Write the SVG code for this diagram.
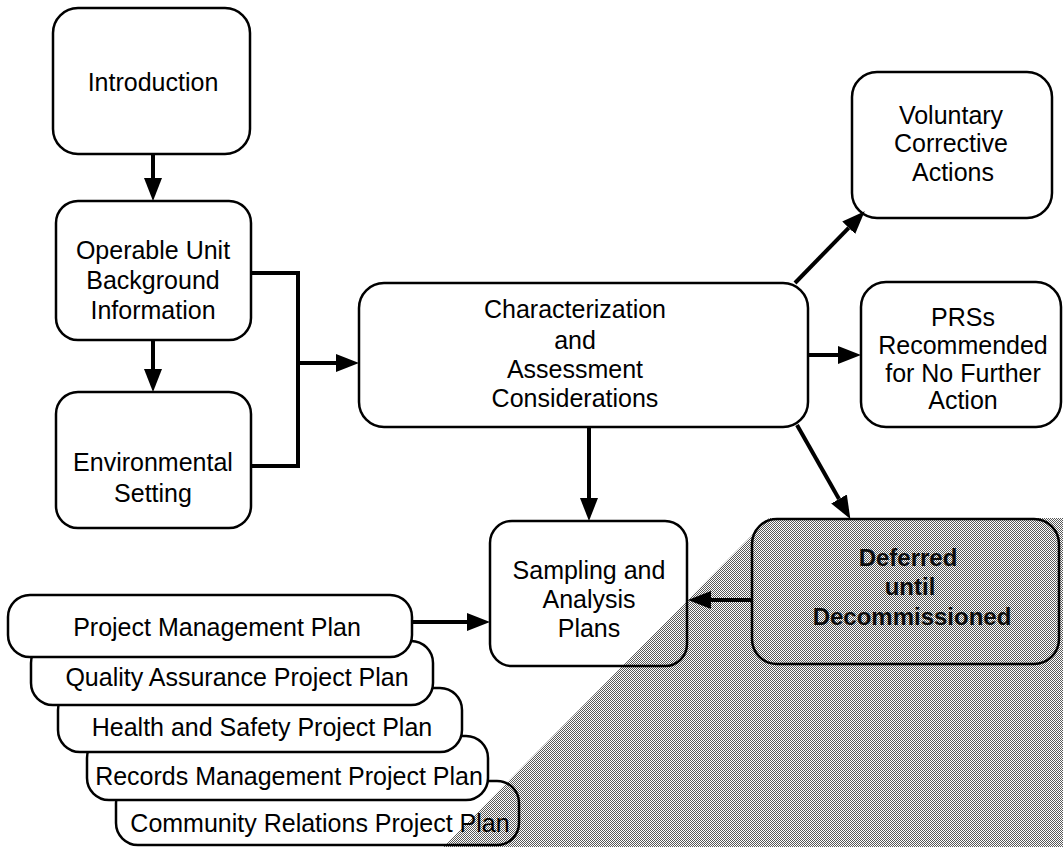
<svg xmlns="http://www.w3.org/2000/svg" width="1063" height="847" viewBox="0 0 1063 847">
<defs>
<style>
.box{fill:#fff;stroke:#000;stroke-width:2.5}
.open{fill:none;stroke:#000;stroke-width:2.5}
.t{font-family:"Liberation Sans",Arial,sans-serif;font-size:25px;fill:#000;text-anchor:middle}
.tb{font-family:"Liberation Sans",Arial,sans-serif;font-size:24px;font-weight:bold;fill:#111;text-anchor:middle}
.c{fill:none;stroke:#000;stroke-width:4}
.a{stroke:#000;stroke-width:4;fill:none;marker-end:url(#ah)}
</style>
<marker id="ah" markerUnits="userSpaceOnUse" markerWidth="24" markerHeight="20" refX="0" refY="10" orient="auto">
<path d="M0,1 L23,10 L0,19 Z" fill="#000"/>
</marker>
<pattern id="dots" width="2" height="2" patternUnits="userSpaceOnUse">
<rect x="0" y="0" width="1" height="1" fill="#000" shape-rendering="crispEdges"/>
<rect x="1" y="1" width="1" height="1" fill="#000" shape-rendering="crispEdges"/>
</pattern>
</defs>
<rect width="1063" height="847" fill="#fff"/>

<g id="stack">
<g id="crpp"><rect class="box" x="116" y="781" width="403" height="64" rx="22"/><text class="t" x="320" y="832">Community Relations Project Plan</text></g>
<g id="rmpp"><rect class="box" x="87" y="736" width="401" height="64" rx="22"/><text class="t" x="289" y="785">Records Management Project Plan</text></g>
<g id="hspp"><rect class="box" x="58" y="688" width="404" height="64" rx="22"/><text class="t" x="262" y="736">Health and Safety Project Plan</text></g>
<g id="qapp"><rect class="box" x="31" y="641" width="402" height="64" rx="22"/><text class="t" x="237" y="686">Quality Assurance Project Plan</text></g>
<g id="pmp"><rect class="box" x="8" y="595" width="404" height="62" rx="22"/><text class="t" x="217" y="636">Project Management Plan</text></g>
</g>

<g id="intro"><rect class="box" x="53" y="8" width="197" height="146" rx="25"/><text class="t" x="153" y="91">Introduction</text></g>
<g id="operable"><rect class="box" x="56" y="201" width="195" height="139" rx="22"/>
<text class="t" x="153" y="259">Operable Unit</text><text class="t" x="153" y="289">Background</text><text class="t" x="153" y="319">Information</text></g>
<g id="environmental"><rect class="box" x="56" y="392" width="195" height="136" rx="22"/>
<text class="t" x="153" y="471">Environmental</text><text class="t" x="153" y="502">Setting</text></g>
<g id="characterization"><rect class="box" x="359" y="283" width="449" height="144" rx="25"/>
<text class="t" x="575" y="318">Characterization</text><text class="t" x="575" y="349">and</text><text class="t" x="575" y="378">Assessment</text><text class="t" x="575" y="407">Considerations</text></g>
<g id="voluntary"><rect class="box" x="852" y="72" width="200" height="146" rx="25"/>
<text class="t" x="951" y="124">Voluntary</text><text class="t" x="951" y="152">Corrective</text><text class="t" x="953" y="181">Actions</text></g>
<g id="prss"><rect class="box" x="861" y="282" width="200" height="145" rx="25"/>
<text class="t" x="963" y="326">PRSs</text><text class="t" x="963" y="354">Recommended</text><text class="t" x="963" y="382">for No Further</text><text class="t" x="963" y="409">Action</text></g>
<g id="sampling"><rect class="box" x="490" y="521" width="197" height="145" rx="22"/>
<text class="t" x="589" y="579">Sampling and</text><text class="t" x="589" y="608">Analysis</text><text class="t" x="589" y="637">Plans</text></g>
<g id="deferred"><rect class="box" x="752" y="519" width="307" height="145" rx="25"/>
<text class="tb" x="908" y="566">Deferred</text><text class="tb" x="910" y="595">until</text><text class="tb" x="912" y="625">Decommissioned</text></g>

<g id="connectors">
<line class="a" x1="153" y1="154" x2="153" y2="178"/>
<line class="a" x1="153" y1="340" x2="153" y2="369"/>
<polyline class="c" points="251,273 298,273 298,466 251,466"/>
<line class="a" x1="298" y1="363" x2="336" y2="363"/>
<line class="a" x1="589" y1="427" x2="589" y2="498"/>
<line class="a" x1="795" y1="283" x2="848.7" y2="227.8"/>
<line class="a" x1="808" y1="355" x2="838" y2="355"/>
<line class="a" x1="797" y1="425" x2="839" y2="499"/>
<line class="a" x1="752" y1="600" x2="711" y2="600"/>
<line class="a" x1="412" y1="622" x2="467" y2="622"/>
</g>

<polygon id="shade" points="769,518 1063,518 1063,847 443,847" fill="url(#dots)" opacity="0.65"/>
</svg>
